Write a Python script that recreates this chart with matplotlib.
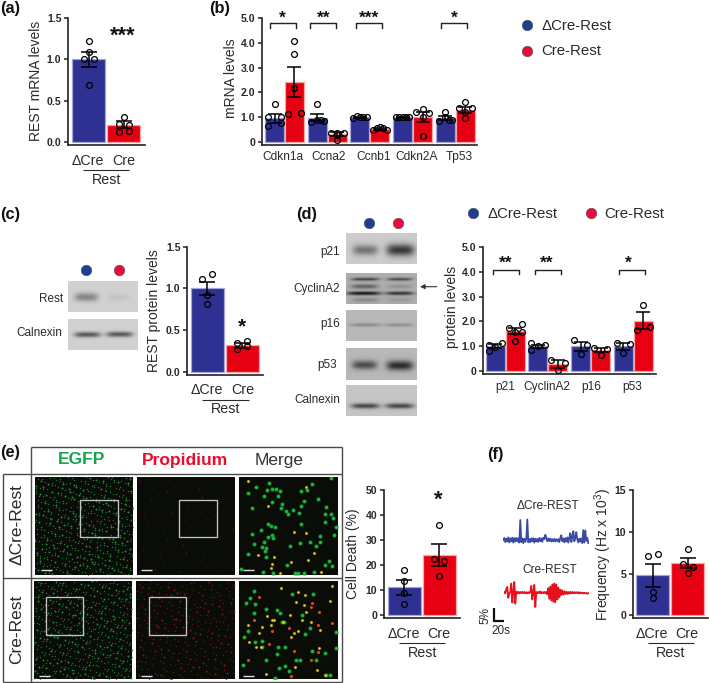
import numpy as np
import matplotlib
matplotlib.use('Agg')
import matplotlib.pyplot as plt
from matplotlib.patches import Rectangle

plt.rcParams['font.family'] = ['Liberation Sans', 'DejaVu Sans']
plt.rcParams['mathtext.fontset'] = 'custom'
plt.rcParams['mathtext.rm'] = 'Liberation Sans'
plt.rcParams['mathtext.default'] = 'regular'

W, H = 709, 683
BLUE, RED = '#2e3192', '#e60012'
BLUE_E, RED_E = '#a4a6d8', '#f6a6a6'
DOT_B, DOT_R = '#1c3f94', '#ea0a3c'
DARK = '#222222'
TXT = '#2a2a2a'

# (a) REST mRNA
a_names = ['\u0394Cre', 'Cre']
a_means = [1.0, 0.21]
a_errs = [0.09, 0.04]
a_pts = [[1.22, 1.09, 1.0, 1.0, 0.69], [0.31, 0.22, 0.21, 0.12, 0.14]]
a_off = [[0, 0, -1, 1, 0], [0, -1, 1, -1, 1]]

# (b) mRNA levels
b_genes = ['Cdkn1a', 'Ccna2', 'Ccnb1', 'Cdkn2A', 'Tp53']
b_blue = [0.97, 0.98, 1.0, 1.0, 0.97]
b_blue_err = [0.18, 0.14, 0.03, 0.02, 0.09]
b_red = [2.43, 0.32, 0.55, 1.0, 1.3]
b_red_err = [0.6, 0.08, 0.04, 0.2, 0.12]
b_blue_pts = [[1.54, 0.67, 0.76, 1.0, 1.0], [1.52, 0.8, 0.87, 0.9, 0.9], [0.96, 1.05, 1.0, 1.0, 1.03],
              [1.0, 1.0, 1.03, 1.0, 1.0], [0.87, 1.23, 1.03, 0.9, 0.9]]
b_blue_off = [[0, -1, 1, -1, 1], [0, -1, 1, 0, 0.5], [-1, -0.5, 0, 1, 0.5], [-1, -0.5, 0, 0.5, 1], [-1, 0, 0, 1, 0.5]]
b_red_pts = [[4.08, 3.55, 2.18, 1.15, 1.18], [0.39, 0.39, 0.39, 0.11, 0.3], [0.48, 0.56, 0.6, 0.56, 0.48],
             [1.23, 1.33, 1.19, 1.0, 0.25], [1.39, 1.39, 1.61, 0.96, 1.21]]
b_red_off = [[0, 0, 0, -1, 1], [-1, 0, 1, 0, 0], [-1, -0.5, 0, 0.5, 1], [-1, 0, 1, 0, 0], [-1, 1, 0, 0, 0]]

# (c) REST protein
c_means = [1.0, 0.32]
c_errs = [0.08, 0.03]
c_pts = [[1.11, 1.17, 0.92, 0.81], [0.35, 0.37, 0.27, 0.31]]
c_off = [[-1, 1, 0, 0], [-1, 1, -1, 1]]

# (d) protein levels
d_prots = ['p21', 'CyclinA2', 'p16', 'p53']
d_blue = [1.0, 1.0, 1.0, 1.0]
d_blue_err = [0.08, 0.07, 0.17, 0.14]
d_red = [1.62, 0.3, 0.85, 2.03]
d_red_err = [0.13, 0.15, 0.08, 0.33]
d_blue_pts = [[1.06, 0.8, 0.99, 1.15], [1.12, 1.03, 1.04, 0.85], [1.26, 1.06, 0.71], [1.14, 1.11, 0.73]]
d_blue_off = [[-1, -1, 0, 1], [-1, 0, 1, -1], [-1, 1, 0], [-1, 1, 0]]
d_red_pts = [[1.74, 1.88, 1.59, 1.23, 1.59], [0.45, 0.35, 0.04], [0.94, 0.9, 0.65], [2.66, 1.66, 1.79]]
d_red_off = [[-1, 1, 0, 0, 1], [-1, 1, 0], [-1, 1, 0], [0, -1, 1]]

# (e) cell death
e_means = [11.2, 24.0]
e_errs = [3.0, 4.4]
e_pts = [[18.0, 13.7, 9.0, 4.7], [36.1, 22.7, 21.9, 15.9]]
e_off = [[0, 0, 0, 0], [0, -1, 1, 0]]

# (f) frequency
f_means = [4.8, 6.27]
f_errs = [1.38, 0.63]
f_pts = [[7.08, 7.32, 2.8, 2.1], [7.9, 6.1, 5.84, 5.04]]
f_off = [[-1, 1, 0, 0], [0, -1, 1, 0]]

# calcium traces, % against time, one value every 2 s
trace_blue = [0, .8, -.8, .5, -.6, 1, -.9, .6, -.5, .9, -1, .7, -.6, .8, -.5, .6, -1, 7.7, -.8, .6, -1.2, .5, -.7, .3,
              7.9, -.9, .4, -.8, .6, -.5, .7, -1, .5, -.6, .4, -.7, .8, -.5, .6, -.7, .9, .3, 2, .9, -.5, .6, -.4, .5,
              -.6, .3, -.5, .4, -.6, .3, -.4, .3, -.8, .8, 1.8, -.5, .6, -.9, .7, -.6, 1, -1, .9, 2.6, -.8, 1.3, 3.4,
              -.5, .8, 3, .2, -.9, .5, -.6, .6, -1.2, 3.8, -1, 3.7, -.3, .8, -1.2]
trace_red = [.3, -.3, 1.5, 2.2, -2, -.3, .2, 3.5, -3.8, .2, 4.1, -4.2, .4, -.3, .3, -.3, .3, -.2, .3, -.2, .3, -.3, .2,
             -.3, .2, -.2, .3, 2.6, -2.6, .2, 3, -5.5, .3, -.3, .3, -.2, .5, -.3, .2, -.2, .3, -.2, .3, -.6, 1.8, -2.4,
             2.4, -3, 3.2, -3.5, 3.6, -3.7, 3.2, -2.6, 2, -1.8, 1.2, -.9, .9, -.7, .5, -.5, .4, -.5, .3, -.4, .3, -.2,
             .3, -.3, .2, -.2, .2, -.2, .2, -.3, .1, -.2, 0, -.3, 0, -.3, -.1, -.4, -.2]

# dots of the Merge panels, positions on a 300 x 300 grid
m1_green = [(92, 18), (50, 30), (28, 50), (85, 42), (100, 37), (112, 38), (123, 45), (75, 58), (117, 58), (187, 45),
            (205, 40), (222, 22), (280, 4), (240, 68), (196, 75), (187, 90), (263, 92), (127, 95), (165, 102),
            (143, 105), (147, 115), (182, 112), (260, 113), (280, 115), (285, 127), (260, 138), (295, 153), (288, 178),
            (40, 94), (187, 143), (88, 145), (98, 151), (109, 155), (65, 162), (100, 178), (88, 183), (103, 187),
            (75, 200), (44, 205), (68, 214), (82, 218), (78, 226), (155, 212), (184, 201), (216, 198), (246, 199),
            (234, 213), (26, 236), (81, 245), (144, 270), (274, 258), (282, 273), (260, 270), (5, 283), (102, 293),
            (170, 295), (180, 295), (198, 293), (228, 291), (72, 292), (40, 176), (245, 180), (100, 78), (130, 82)]
m1_yellow = [(88, 90), (202, 32), (166, 168), (203, 173), (58, 240), (106, 244), (157, 259), (210, 253), (228, 232),
             (25, 12), (124, 293), (250, 290), (97, 280), (99, 265)]
m2_green = [(32, 53), (45, 32), (20, 67), (47, 70), (80, 84), (115, 87), (125, 97), (15, 172), (28, 153), (48, 185),
            (70, 183), (140, 202), (117, 200), (222, 215), (260, 220), (295, 205), (172, 240), (185, 240), (150, 275),
            (120, 265), (80, 240), (10, 255), (235, 240), (265, 288), (275, 287), (295, 155), (217, 142), (200, 162),
            (135, 125), (130, 125), (110, 295), (140, 258), (115, 222), (190, 105), (225, 40), (160, 40), (70, 200),
            (45, 97)]
m2_yellow = [(283, 14), (126, 22), (178, 34), (200, 42), (174, 65), (198, 74), (204, 95), (276, 62), (156, 104),
             (85, 108), (100, 118), (25, 133), (68, 140), (98, 135), (60, 160), (30, 187), (50, 200), (66, 200),
             (168, 160), (178, 154), (158, 170), (242, 205), (218, 125), (245, 150), (105, 120), (192, 118), (80, 285),
             (170, 262), (238, 272), (260, 288), (133, 125)]
m2_red = [(60, 50), (223, 68), (218, 78), (244, 95), (44, 120), (282, 128), (150, 143), (100, 152), (240, 135),
          (92, 192), (167, 215), (240, 217), (28, 242), (158, 290), (220, 240)]

fig = plt.figure(figsize=(W / 100, H / 100), dpi=100)


def px_axes(left, right, ytop, y0, ybot, ymax, xlo, xhi):
    # axes placed in image pixels, y0 is where the value 0 falls
    ax = fig.add_axes([left / W, 1 - ybot / H, (right - left) / W, (ybot - ytop) / H])
    ax.set_xlim(xlo, xhi)
    ax.set_ylim(-(ybot - y0) * ymax / (y0 - ytop), ymax)
    ax.patch.set_alpha(0)
    for s in ['top', 'right']:
        ax.spines[s].set_visible(False)
    for s in ['left', 'bottom']:
        ax.spines[s].set_linewidth(1.2)
        ax.spines[s].set_color(DARK)
    ax.tick_params(axis='y', length=3.2, width=1.1, color=DARK, pad=1.5)
    ax.tick_params(axis='x', length=0, labelbottom=False)
    ax.set_xticks([])
    return ax


def set_yticks(ax, vals, labels):
    ax.set_yticks(vals)
    ax.set_yticklabels(labels, fontsize=7.6, fontweight='bold', color=TXT)


def put_bar(ax, x, mean, err, pts, off, step, w, color, edge, cap):
    ax.bar(x, mean, width=w, color=color, edgecolor=edge, linewidth=0.9, zorder=2)
    ax.errorbar(x, mean, yerr=err, color='black', lw=1.1, capsize=cap, capthick=1.1, zorder=3)
    ax.plot(x + np.array(off) * step, pts, 'o', ms=4.2, mfc='none', mec='black', mew=0.9, zorder=4, clip_on=False)


def two_bars(ax, means, errs, pts, off):
    put_bar(ax, 0, means[0], errs[0], pts[0], off[0], 0.143, 0.95, BLUE, BLUE_E, 5.8)
    put_bar(ax, 1, means[1], errs[1], pts[1], off[1], 0.143, 0.95, RED, RED_E, 5.8)


def group_bars(ax, blue, blue_err, red, red_err, blue_pts, blue_off, red_pts, red_off):
    for i in range(len(blue)):
        put_bar(ax, i - 0.234, blue[i], blue_err[i], blue_pts[i], blue_off[i], 0.156, 0.445, BLUE, BLUE_E, 5)
        put_bar(ax, i + 0.234, red[i], red_err[i], red_pts[i], red_off[i], 0.156, 0.445, RED, RED_E, 5)


def bracket(ax, x0, x1, y, tip):
    ax.plot([x0, x0, x1, x1], [tip, y, y, tip], color=DARK, lw=1.0, zorder=3, clip_on=False)


ticks_a = [0, 0.5, 1.0, 1.5]
ticks_a_lab = ['0.0', '0.5', '1.0', '1.5']
ticks_b = [0, 1, 2, 3, 4, 5]
ticks_b_lab = ['0', '1.0', '2.0', '3.0', '4.0', '5.0']

ax_a = px_axes(68, 145, 17.5, 142.3, 145.3, 1.5, -0.586, 1.61)
set_yticks(ax_a, ticks_a, ticks_a_lab)
two_bars(ax_a, a_means, a_errs, a_pts, a_off)

ax_b = px_axes(262, 477, 17.7, 142.3, 145.3, 5.0, -0.527, 4.51)
set_yticks(ax_b, ticks_b, ticks_b_lab)
group_bars(ax_b, b_blue, b_blue_err, b_red, b_red_err, b_blue_pts, b_blue_off, b_red_pts, b_red_off)
for i, d in [(0, -0.043), (1, -0.09), (2, -0.027), (4, -0.027)]:
    bracket(ax_b, i + d - 0.305, i + d + 0.305, 4.77, 4.6)

ax_c = px_axes(187, 263, 246.7, 371.7, 374.5, 1.5, -0.58, 1.6)
set_yticks(ax_c, ticks_a, ticks_a_lab)
two_bars(ax_c, c_means, c_errs, c_pts, c_off)

ax_d = px_axes(482.7, 655.7, 246.7, 371.3, 374.3, 5.0, -0.527, 3.527)
set_yticks(ax_d, ticks_b, ticks_b_lab)
group_bars(ax_d, d_blue, d_blue_err, d_red, d_red_err, d_blue_pts, d_blue_off, d_red_pts, d_red_off)
for i, d in [(0, 0.02), (1, 0.0), (3, -0.02)]:
    bracket(ax_d, i + d - 0.305, i + d + 0.305, 4.08, 3.92)

ax_e = px_axes(384, 460, 490.3, 615.3, 618, 50, -0.58, 1.6)
set_yticks(ax_e, [0, 10, 20, 30, 40, 50], ['0', '10', '20', '30', '40', '50'])
two_bars(ax_e, e_means, e_errs, e_pts, e_off)

ax_f = px_axes(632.7, 708, 490.3, 615.3, 618, 15, -0.58, 1.58)
set_yticks(ax_f, [0, 5, 10, 15], ['0', '5', '10', '15'])
two_bars(ax_f, f_means, f_errs, f_pts, f_off)

# traces, 1 px = 2 s and 1 px = 0.385 %
tr1 = fig.add_axes([503.3 / W, 1 - 560 / H, 86 / W, 50 / H])
tr1.set_xlim(0, 172)
tr1.set_ylim(-20 * 0.385, 30 * 0.385)
tr1.axis('off')
tr1.plot(np.arange(len(trace_blue)) * 2, trace_blue, color='#3a4aa5', lw=1.3)
tr2 = fig.add_axes([504.3 / W, 1 - 617.7 / H, 85 / W, 50 / H])
tr2.set_xlim(0, 170)
tr2.set_ylim(-25 * 0.385, 25 * 0.385)
tr2.axis('off')
tr2.plot(np.arange(len(trace_red)) * 2, trace_red, color='#e8101c', lw=1.3)

# western blots: grey image with soft bands
BLOTS = [
    # x0, x1, y0, y1, background, bands (x centre, half width, y centre, sigma, darkness)
    (68, 138, 280.7, 311.7, .82, [(.26, .17, .52, .10, .30), (.72, .16, .53, .09, .05)]),
    (68, 138, 318.7, 350, .82, [(.275, .19, .52, .06, .48), (.74, .19, .51, .06, .48)]),
    (346.3, 417, 233.3, 264, .80, [(.27, .18, .55, .12, .35), (.77, .20, .55, .14, .58)]),
    (346.3, 417, 273, 304.3, .68, [(.27, .20, .22, .035, .42), (.26, .19, .45, .05, .30), (.25, .24, .67, .04, .60),
                                   (.27, .19, .88, .05, .14), (.76, .18, .22, .035, .38), (.76, .18, .45, .05, .10),
                                   (.76, .20, .67, .04, .48), (.76, .18, .88, .05, .08)]),
    (346.3, 417, 309.7, 340.7, .72, [(.27, .22, .48, .04, .18), (.75, .20, .48, .04, .16)]),
    (346.3, 417, 348.3, 379.7, .72, [(.26, .18, .53, .10, .42), (.76, .19, .55, .11, .55)]),
    (346.3, 417, 385.3, 415.7, .77, [(.27, .20, .68, .06, .50), (.76, .20, .68, .06, .50)]),
]
gx = np.linspace(0, 1, 90)
gy = np.linspace(0, 1, 50)
for x0, x1, y0, y1, bg, bands in BLOTS:
    im = np.full((50, 90), float(bg))
    for cx, hw, cy, sig, dark in bands:
        im -= dark * np.exp(-((gx - cx) / hw) ** 4)[None, :] * np.exp(-((gy - cy) / sig) ** 2 / 2)[:, None]
    b = fig.add_axes([x0 / W, 1 - y1 / H, (x1 - x0) / W, (y1 - y0) / H])
    b.imshow(im, cmap='gray', vmin=0, vmax=1, aspect='auto', interpolation='bilinear')
    b.axis('off')


def micro(x0, x1, y0, y1):
    m = fig.add_axes([x0 / W, 1 - y1 / H, (x1 - x0) / W, (y1 - y0) / H])
    m.set_facecolor('#0a0c07')
    m.set_xlim(0, 300)
    m.set_ylim(300, 0)
    m.set_xticks([])
    m.set_yticks([])
    for s in m.spines.values():
        s.set_visible(False)
    return m


def halton(k, base):
    out = np.zeros(len(k))
    f = 1.0 / base
    k = k.copy()
    while k.max() > 0:
        out += f * (k % base)
        k = k // base
        f /= base
    return out


def speckle(m, n, color, size, alpha, start=1):
    # filler texture for the micrographs, not a measured series: a fixed Halton sequence
    k = np.arange(start, start + n)
    xs = halton(k, 5) * 300
    ys = halton(k, 7) * 300
    m.scatter(xs, ys, s=size, c=color, alpha=alpha, linewidths=0)
    m.scatter(xs[::4], ys[::4], s=size * 2, c=color, alpha=alpha, linewidths=0)


def merge(m, green, yellow, red):
    gx_, gy_ = zip(*green)
    m.scatter(gx_, gy_, s=13, c='#0f7a26', alpha=0.45, linewidths=0)
    m.scatter(gx_, gy_, s=5.5, c='#1fb83e', linewidths=0)
    yx, yy = zip(*yellow)
    m.scatter(yx, yy, s=6, c='#b09416', alpha=0.6, linewidths=0)
    m.scatter(yx, yy, s=2.5, c='#f0d828', linewidths=0)
    if red:
        rx, ry = zip(*red)
        m.scatter(rx, ry, s=5, c='#d84a18', linewidths=0)


speckle(micro(34.7, 133, 476.7, 575), 520, '#1f9433', 1.0, 0.85, 11)
speckle(micro(136.7, 235, 476.7, 575), 40, '#5e1210', 0.9, 0.8, 700)
merge(micro(239.3, 337.7, 476.7, 575), m1_green, m1_yellow, [])
speckle(micro(34, 132.3, 581, 679.3), 500, '#1f9433', 1.0, 0.8, 900)
speckle(micro(136.3, 234.7, 581, 679.3), 260, '#8a1714', 1.0, 0.85, 1500)
merge(micro(239.3, 337.7, 581, 679.3), m2_green, m2_yellow, m2_red)

# everything else on a full figure layer in pixels
ov = fig.add_axes([0, 0, 1, 1], zorder=20)
ov.set_xlim(0, W)
ov.set_ylim(H, 0)
ov.axis('off')


def text(x, y, s, size=10, **kw):
    kw.setdefault('ha', 'center')
    kw.setdefault('va', 'center')
    kw.setdefault('color', TXT)
    ov.text(x, y, s, fontsize=size, **kw)


def stars(x, y, s, size=12.5):
    # the asterisk sits high in its line, so go by the baseline
    ov.text(x, y + 0.42 * size * 100 / 72, s, fontsize=size, fontweight='bold', ha='center', va='baseline', color='#111111')


def line(x0, y0, x1, y1, color=TXT, lw=0.8):
    ov.plot([x0, x1], [y0, y1], color=color, lw=lw, solid_capstyle='butt')


for x, y, s in [(0, 8, '(a)'), (209, 8, '(b)'), (0, 214, '(c)'), (296, 214, '(d)'), (0, 453, '(e)'), (487, 454, '(f)')]:
    text(x, y, s, 11.8, fontweight='bold', ha='left', color='#111111')

# y titles
for x, y, s in [(35.7, 81, 'REST mRNA levels'), (230.7, 78, 'mRNA levels'), (154, 310.7, 'REST protein levels'),
                (451.7, 306.7, 'protein levels'), (353, 554, 'Cell Death (%)'), (603, 555, 'Frequency (Hz x 10$^{3}$)')]:
    text(x, y, s, 10, rotation=90)

# dCre / Cre / Rest groups
for x1, x2, y1, x3, x4, y2, x5, y3 in [(88, 123.7, 161, 83, 129, 170, 106.7, 180),
                                       (206.7, 242.7, 390, 202, 249, 399.7, 225.7, 409),
                                       (404, 438.7, 634, 399.3, 445, 643.3, 422.3, 653.3),
                                       (652.3, 687, 634, 648.3, 694, 643.3, 671, 653.3)]:
    text(x1, y1, a_names[0], 10.3)
    text(x2, y1, a_names[1], 10.3)
    line(x3, y2, x4, y2)
    text(x5, y3, 'Rest', 10.3)

for x, s in zip([283, 328.7, 373.7, 417, 459.3], b_genes):
    text(x, 157, s, 8.6)
for x, s in zip([505.7, 547.3, 591.7, 632], d_prots):
    text(x, 386.7, s, 8.6)

stars(122.7, 33, '***', 15.5)
for x, s in zip([282.3, 323.3, 368.7, 454], ['*', '**', '***', '*']):
    stars(x, 15, s)
for x, s in zip([506, 546.7, 628], ['**', '**', '*']):
    stars(x, 260.7, s)
stars(242.3, 324, '*', 15)
stars(438.7, 496, '*', 16)


def dot(x, y, color, ms=7.6):
    ov.plot(x, y, 'o', ms=ms, mfc=color, mec='#555555', mew=0.4)


# legends and lane dots
dot(526.7, 25, DOT_B)
dot(526.7, 50.7, DOT_R)
text(541.7, 26, '\u0394Cre-Rest', 10.8, ha='left')
text(541.7, 51, 'Cre-Rest', 10.8, ha='left')
dot(472.7, 213.3, DOT_B)
dot(591, 213.3, DOT_R)
text(487.3, 214.3, '\u0394Cre-Rest', 10.8, ha='left')
text(604, 214.3, 'Cre-Rest', 10.8, ha='left')
dot(86, 270, DOT_B)
dot(119.3, 270, DOT_R)
dot(368.7, 222.7, DOT_B)
dot(398.3, 222.7, DOT_R)

# blot names
for x, y, s in [(63.3, 299, 'Rest'), (62.3, 333.3, 'Calnexin'), (340, 252.3, 'p21'), (340, 289, 'CyclinA2'),
                (340, 324.3, 'p16'), (337, 365, 'p53'), (340, 400, 'Calnexin')]:
    text(x, y, s, 8.5, ha='right')
ov.annotate('', xy=(420, 286.7), xytext=(436.7, 286.7),
            arrowprops=dict(arrowstyle='-|>', color='#333333', lw=0.8, mutation_scale=7, shrinkA=0, shrinkB=0))

# frame of panel e
FRAME = '#4a4a4a'
line(30.7, 447.3, 341.5, 447.3, FRAME, 1)
line(2.7, 473.7, 341.5, 473.7, FRAME, 1)
line(2.7, 577.7, 341.5, 577.7, FRAME, 1)
line(2.7, 681.7, 341.5, 681.7, FRAME, 1)
line(2.7, 473.7, 2.7, 681.7, FRAME, 1)
line(30.7, 447.3, 30.7, 681.7, FRAME, 1)
line(341.5, 447.3, 341.5, 681.7, FRAME, 1)

text(81.7, 460, 'EGFP', 12.5, fontweight='bold', color='#12a54a')
text(185, 460, 'Propidium', 12.5, fontweight='bold', color='#ea0a2a')
text(279.5, 460, 'Merge', 12.5, color='#333333')
text(16.7, 524.7, '\u0394Cre-Rest', 12.5, rotation=90)
text(16.7, 629.5, 'Cre-Rest', 12.5, rotation=90)

# zoom boxes and scale bars of the micrographs
for x, y in [(80.3, 500), (179.3, 500), (45.7, 597.3), (148.7, 597.3)]:
    ov.add_patch(Rectangle((x, y), 37.3, 37.3, fill=False, ec='#c4c4c4', lw=0.95))
for x, y in [(40.7, 570.3), (141.3, 570.3), (243.3, 570.3), (39, 676), (141.3, 676), (243.3, 676)]:
    line(x, y, x + 11, y, '#dddddd', 1.0)

text(548.3, 505.7, '\u0394Cre-REST', 8.6)
text(549.3, 570, 'Cre-REST', 8.6)
line(494, 608.3, 494, 622, '#111111', 1.6)
line(493.4, 621.4, 504, 621.4, '#111111', 1.6)
text(485.7, 615, '5%', 8.5, rotation=90)
text(500.7, 631, '20s', 8.5)

fig.savefig('out.png', dpi=100)
